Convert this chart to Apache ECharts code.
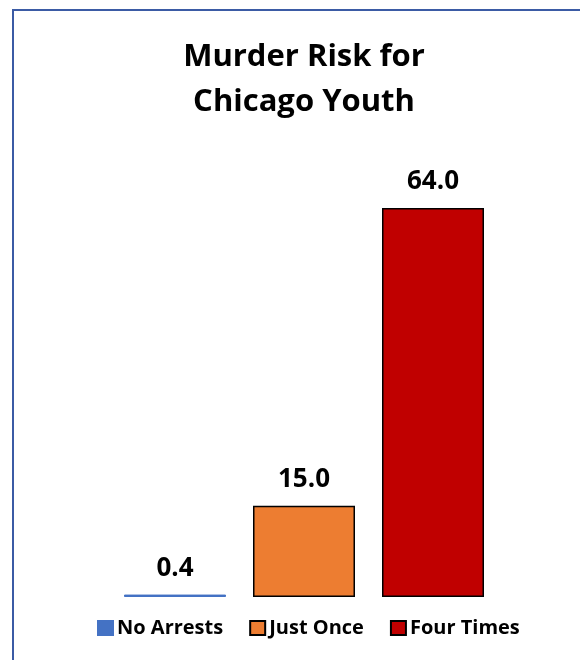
<!DOCTYPE html>
<html><head><meta charset="utf-8">
<script src="https://cdn.jsdelivr.net/npm/echarts@6/dist/echarts.min.js"></script>
<style>html,body{margin:0;padding:0;background:#fff}#c{width:580px;height:660px}</style>
</head><body><div id="c"></div>
<script>
const categories = ['No Arrests', 'Just Once', 'Four Times'];
const values = [0.4, 15.0, 64.0];
const colors = ['#4472C4', '#ED7D31', '#C00000'];
const titleLines = ['Murder Risk for', 'Chicago Youth'];

const FONT = 'Open Sans';
const chart = echarts.init(document.getElementById('c'));
const series = categories.map((name, i) => ({
  name: name,
  type: 'bar',
  stack: 'all',
  barWidth: 102,
  data: categories.map((_, j) => j === i ? values[i] : '-'),
  itemStyle: {
    color: colors[i],
    borderColor: i === 0 ? colors[i] : '#000',
    borderWidth: i === 0 ? 1 : 1.5
  },
  label: {
    show: true,
    position: 'top',
    distance: 13,
    fontFamily: FONT,
    fontWeight: 'bold',
    fontSize: 26,
    color: '#000',
    formatter: p => Number(p.value).toFixed(1)
  }
}));

chart.setOption({
  animation: false,
  title: {
    text: titleLines.join('\n'),
    left: 299,
    textAlign: 'center',
    top: 30,
    textStyle: { fontFamily: FONT, fontWeight: 'bold', fontSize: 31, lineHeight: 45, color: '#000' }
  },
  graphic: [{
    type: 'rect',
    shape: { x: 13, y: 10, width: 600, height: 670 },
    style: { fill: 'none', stroke: '#3B5BA5', lineWidth: 2 },
    silent: true
  }],
  legend: {
    left: 92,
    top: 613,
    icon: 'rect',
    itemWidth: 15,
    itemHeight: 14,
    itemGap: 26,
    textStyle: { fontFamily: FONT, fontWeight: 'bold', fontSize: 20, color: '#000', padding: [0, 0, 0, -1] },
    data: categories
  },
  grid: { left: 110.5, width: 387, top: 171.4, bottom: 63, containLabel: false },
  xAxis: {
    type: 'category', data: categories,
    axisLine: { show: false }, axisTick: { show: false }, axisLabel: { show: false }, splitLine: { show: false }
  },
  yAxis: {
    type: 'value', min: 0, max: 70,
    axisLine: { show: false }, axisTick: { show: false }, axisLabel: { show: false }, splitLine: { show: false }
  },
  series: series
});
</script></body></html>
